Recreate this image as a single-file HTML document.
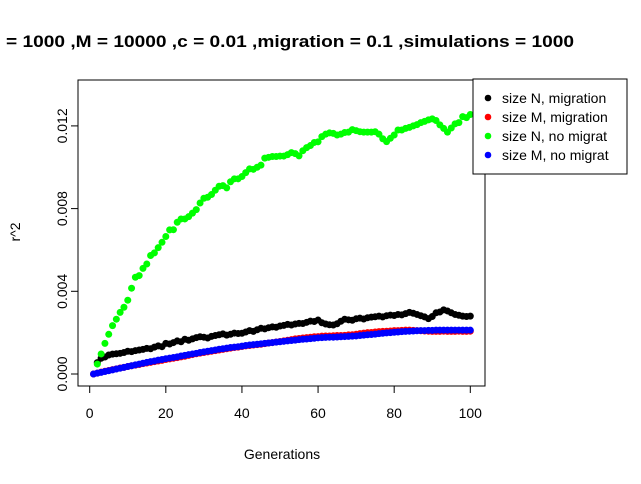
<!DOCTYPE html>
<html><head><meta charset="utf-8"><style>
html,body{margin:0;padding:0;background:#fff;width:641px;height:484px;overflow:hidden}
svg{display:block;font-family:"Liberation Sans",Arial,sans-serif}
</style></head><body>
<svg id="chart" width="641" height="484" viewBox="0 0 641 484">
<text x="6" y="47" font-size="17" font-weight="bold" textLength="568" lengthAdjust="spacingAndGlyphs">= 1000 ,M = 10000 ,c = 0.01 ,migration = 0.1 ,simulations = 1000</text>
<rect x="78" y="80" width="407" height="306" fill="none" stroke="#000" stroke-width="1"/>
<g id="xaxis"></g>
<g id="yaxis"></g>
<text x="282" y="459" font-size="14" text-anchor="middle">Generations</text>
<text x="0" y="0" font-size="14" text-anchor="middle" transform="translate(20,232) rotate(-90)">r^2</text>
<g id="marks"></g>
<g>
<rect x="473" y="79" width="154" height="95" fill="#fff" stroke="#000"/>
<g><circle cx="488" cy="98" r="3.3" fill="#000"/><text x="502" y="103" font-size="14">size N, migration</text></g>
<g><circle cx="488" cy="117" r="3.3" fill="#ff0000"/><text x="502" y="122" font-size="14">size M, migration</text></g>
<g><circle cx="488" cy="136" r="3.3" fill="#00ff00"/><text x="502" y="141" font-size="14">size N, no migrat</text></g>
<g><circle cx="488" cy="155" r="3.3" fill="#0000ff"/><text x="502" y="160" font-size="14">size M, no migrat</text></g>
</g>
</svg>
<script>
const xTicks=[0,20,40,60,80,100];
const yTicks=[0,0.004,0.008,0.012];
const yTickLabels=["0.000","0.004","0.008","0.012"];
// generations 2..100
const greenVals=[0.00048,0.00097,0.00148,0.00192,0.00234,0.00265,0.00298,0.00323,0.00357,0.00415,0.00468,0.00476,0.00511,0.00532,0.00573,0.00586,0.00611,0.00637,0.00665,0.00697,0.00698,0.00734,0.0075,0.0075,0.00761,0.00778,0.00795,0.00827,0.0085,0.00855,0.00868,0.00889,0.00908,0.00911,0.009,0.0093,0.00944,0.00944,0.00955,0.00974,0.00992,0.0099,0.01,0.0101,0.01044,0.01048,0.01052,0.01052,0.01054,0.01054,0.01061,0.01071,0.01066,0.01055,0.0108,0.01095,0.01105,0.0112,0.01123,0.01148,0.0116,0.01166,0.01164,0.01156,0.0116,0.01168,0.0117,0.01182,0.01177,0.01172,0.0117,0.0117,0.0117,0.01172,0.0116,0.01138,0.01124,0.0114,0.01156,0.0118,0.0118,0.01188,0.01193,0.012,0.01206,0.01216,0.01222,0.01229,0.01234,0.01226,0.01205,0.01188,0.0117,0.0119,0.0121,0.01216,0.01245,0.0124,0.01255];
const blackVals=[0.00055,0.00076,0.00082,0.00092,0.00096,0.00098,0.001,0.00104,0.0011,0.00108,0.00113,0.00116,0.00119,0.00124,0.00122,0.0013,0.00136,0.00132,0.00148,0.00145,0.00152,0.0016,0.00156,0.00168,0.00163,0.0017,0.00176,0.0018,0.00178,0.00174,0.00182,0.00186,0.0019,0.00194,0.00188,0.00192,0.00198,0.00196,0.00197,0.00203,0.0021,0.00206,0.00214,0.00221,0.00218,0.00224,0.00228,0.00226,0.00232,0.00235,0.0024,0.00237,0.00242,0.00245,0.00244,0.0025,0.00256,0.00254,0.00261,0.00248,0.00242,0.00238,0.00237,0.00243,0.00255,0.00265,0.00262,0.0026,0.00267,0.0027,0.00266,0.00272,0.00275,0.00277,0.0028,0.00276,0.00282,0.00285,0.00283,0.00288,0.00286,0.00292,0.00298,0.00294,0.00288,0.00282,0.00276,0.00268,0.00278,0.00296,0.003,0.0031,0.00305,0.00296,0.00288,0.00284,0.0028,0.00278,0.0028];
// generations 1..100
const redVals=[0,0.00004,0.00009,0.00013,0.00017,0.00021,0.00025,0.00029,0.00032,0.00036,0.0004,0.00043,0.00046,0.0005,0.00053,0.00056,0.0006,0.00063,0.00066,0.0007,0.00073,0.00076,0.00079,0.00083,0.00086,0.0009,0.00094,0.00098,0.00101,0.00104,0.00107,0.0011,0.00113,0.00116,0.00119,0.00122,0.00125,0.00128,0.0013,0.00133,0.00136,0.00138,0.0014,0.00142,0.00144,0.00147,0.0015,0.00152,0.00155,0.00157,0.0016,0.00163,0.00166,0.0017,0.00172,0.00174,0.00176,0.00178,0.0018,0.00181,0.00183,0.00184,0.00184,0.00185,0.00186,0.00186,0.00187,0.00189,0.0019,0.00192,0.00195,0.00198,0.002,0.00201,0.00203,0.00205,0.00206,0.00207,0.00208,0.0021,0.0021,0.00211,0.00212,0.00212,0.00211,0.0021,0.00209,0.00208,0.00207,0.00206,0.00206,0.00206,0.00207,0.00206,0.00206,0.00206,0.00207,0.00206,0.00206,0.00207];
const blueVals=[0,0.00004,0.00008,0.00012,0.00016,0.0002,0.00024,0.00028,0.00032,0.00036,0.0004,0.00044,0.00048,0.00052,0.00056,0.0006,0.00063,0.00067,0.0007,0.00074,0.00077,0.0008,0.00083,0.00087,0.0009,0.00094,0.00097,0.001,0.00104,0.00107,0.0011,0.00113,0.00116,0.0012,0.00122,0.00125,0.00128,0.0013,0.00132,0.00135,0.00138,0.0014,0.00142,0.00144,0.00146,0.00148,0.0015,0.00152,0.00154,0.00156,0.00158,0.0016,0.00162,0.00164,0.00166,0.00168,0.00169,0.00171,0.00173,0.00175,0.00176,0.00177,0.00178,0.00178,0.00179,0.0018,0.00181,0.00182,0.00183,0.00184,0.00186,0.00188,0.0019,0.00191,0.00193,0.00195,0.00197,0.00199,0.002,0.00202,0.00203,0.00205,0.00206,0.00207,0.00208,0.00209,0.0021,0.0021,0.00211,0.00211,0.00212,0.00212,0.00212,0.00212,0.00212,0.00212,0.00212,0.00212,0.00212,0.00212];
const NS="http://www.w3.org/2000/svg";
function xs(g){return 89.7+g*3.806;}
function ys(v){return 374-v*20675;}
const xa=document.getElementById('xaxis'),ya=document.getElementById('yaxis'),mk=document.getElementById('marks');
function el(t,a,p){const e=document.createElementNS(NS,t);for(const k in a)e.setAttribute(k,a[k]);p.appendChild(e);return e;}
el('line',{x1:xs(0),x2:xs(100),y1:386,y2:386,stroke:'#000'},xa);
xTicks.forEach(t=>{
 const l=el('line',{x1:xs(t),x2:xs(t),y1:386,y2:393,stroke:'#000'},xa);
 
 
 const tx=el('text',{x:xs(t),y:418,'font-size':14,'text-anchor':'middle'},xa);tx.textContent=t;
 
 
});
el('line',{x1:78,x2:78,y1:ys(0),y2:ys(0.012),stroke:'#000'},ya);
yTicks.forEach((t,i)=>{
 const l=el('line',{x1:71,x2:78,y1:ys(t),y2:ys(t),stroke:'#000'},ya);
 
 
 const tx=el('text',{x:0,y:0,'font-size':14,'text-anchor':'middle',transform:`translate(67,${ys(t)}) rotate(-90)`},ya);tx.textContent=yTickLabels[i];
 
 
});
function series(vals,start,color,name){
 const g=el('g',{fill:color},mk);
 
 
 vals.forEach((v,i)=>{
  const c=el('circle',{cx:xs(start+i),cy:ys(v),r:3.5},g);
  
  
 });
}
series(blackVals,2,'#000000','series-size-n-migration');
series(redVals,1,'#ff0000','series-size-m-migration');
series(greenVals,2,'#00ff00','series-size-n-no-migrat');
series(blueVals,1,'#0000ff','series-size-m-no-migrat');
</script>
</body></html>
